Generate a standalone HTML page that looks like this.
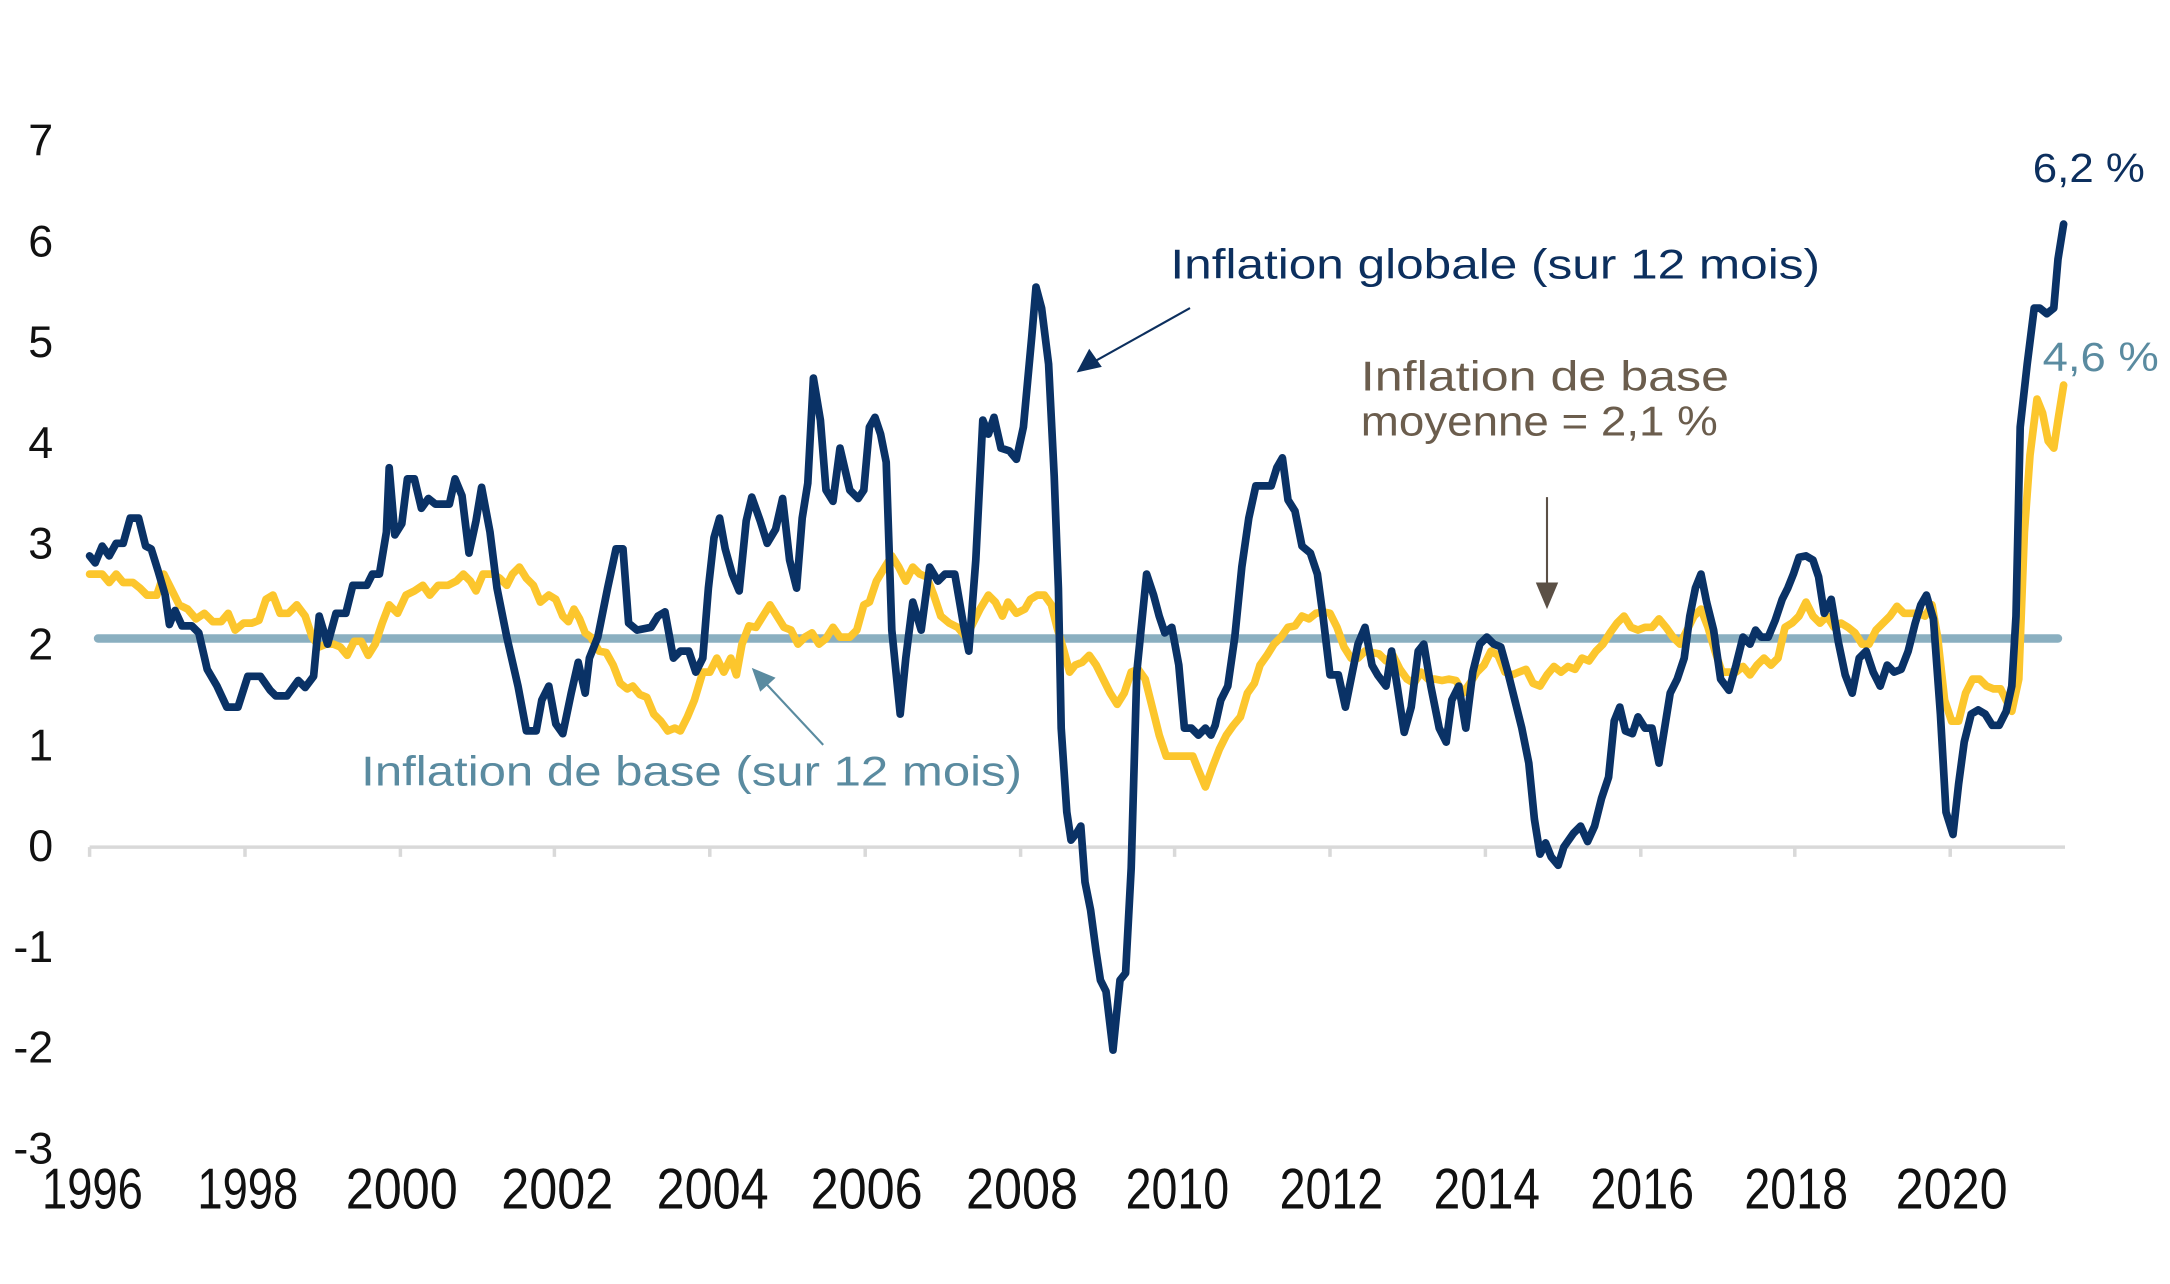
<!DOCTYPE html>
<html><head><meta charset="utf-8"><style>
html,body{margin:0;padding:0;background:#fff;}
svg{display:block;}
text{font-family:"Liberation Sans",sans-serif;}
</style></head><body>
<svg width="2170" height="1284" viewBox="0 0 1550 917" xmlns="http://www.w3.org/2000/svg">
<rect width="1550" height="917" fill="#fff"/>
<g fill="#111" font-size="32" text-anchor="end">
<text x="38" y="111">7</text><text x="38" y="183">6</text><text x="38" y="255">5</text>
<text x="38" y="327">4</text><text x="38" y="399">3</text><text x="38" y="471">2</text>
<text x="38" y="543">1</text><text x="38" y="615">0</text><text x="38" y="687">-1</text>
<text x="38" y="759">-2</text><text x="38" y="831">-3</text>
</g>
<g stroke="#d9d9d9" stroke-width="2.5" fill="none">
<line x1="64" y1="605" x2="1475" y2="605"/>
<path d="M64 605v7M175 605v7M286 605v7M396 605v7M507 605v7M618 605v7M729 605v7M839 605v7M950 605v7M1061 605v7M1172 605v7M1282 605v7M1393 605v7"/>
</g>
<g fill="#111" font-size="41" text-anchor="middle" font-family="Liberation Sans Narrow, Liberation Sans, sans-serif">
<text x="66" y="863" textLength="72" lengthAdjust="spacingAndGlyphs">1996</text>
<text x="177" y="863" textLength="72" lengthAdjust="spacingAndGlyphs">1998</text>
<text x="287" y="863" textLength="80" lengthAdjust="spacingAndGlyphs">2000</text>
<text x="398" y="863" textLength="80" lengthAdjust="spacingAndGlyphs">2002</text>
<text x="509" y="863" textLength="80" lengthAdjust="spacingAndGlyphs">2004</text>
<text x="619" y="863" textLength="80" lengthAdjust="spacingAndGlyphs">2006</text>
<text x="730" y="863" textLength="80" lengthAdjust="spacingAndGlyphs">2008</text>
<text x="841" y="863" textLength="74" lengthAdjust="spacingAndGlyphs">2010</text>
<text x="951" y="863" textLength="74" lengthAdjust="spacingAndGlyphs">2012</text>
<text x="1062" y="863" textLength="76" lengthAdjust="spacingAndGlyphs">2014</text>
<text x="1173" y="863" textLength="74" lengthAdjust="spacingAndGlyphs">2016</text>
<text x="1283" y="863" textLength="74" lengthAdjust="spacingAndGlyphs">2018</text>
<text x="1394" y="863" textLength="80" lengthAdjust="spacingAndGlyphs">2020</text>
</g>
<line x1="70" y1="456" x2="1470" y2="456" stroke="#8aafc0" stroke-width="6" stroke-linecap="round"/>
<polyline fill="none" stroke="#fcc62d" stroke-width="5.5" stroke-linejoin="round" stroke-linecap="round" points="64,410 73,410 78,416 83,410 88,416 95,416 100,420 105,425 112,425 117,410 122,420 128,432 134,435 140,442 146,438 152,444 158,444 163,438 168,450 174,445 180,445 185,443 190,428 195,425 200,438 206,438 212,432 218,440 223,455 228,462 233,460 238,460 243,462 248,468 253,458 258,458 263,468 268,460 273,445 278,432 284,438 290,425 296,422 302,418 307,425 313,418 320,418 326,415 331,410 336,415 340,422 345,410 352,410 357,413 362,418 366,410 371,405 376,413 381,418 386,430 392,425 397,428 402,440 406,444 410,435 414,442 418,452 422,455 428,465 433,466 438,475 443,488 448,492 452,490 457,496 462,498 467,510 472,515 477,522 482,520 486,522 491,512 496,500 502,480 507,480 512,470 517,480 522,470 526,482 530,460 535,447 540,448 545,440 550,432 555,440 560,448 565,450 570,460 575,455 580,452 585,460 590,456 595,448 600,455 607,455 612,450 617,432 621,430 626,415 632,405 637,397 642,405 647,415 652,405 657,410 662,412 667,425 672,440 678,445 684,448 690,455 695,445 700,435 706,425 711,430 716,440 720,430 726,438 732,435 736,428 741,425 746,425 751,432 755,448 760,465 764,480 768,475 773,473 778,468 783,475 788,485 793,495 798,503 803,495 808,480 813,478 818,485 823,505 828,525 833,540 840,540 846,540 852,540 856,550 861,562 866,548 871,535 876,525 881,518 886,512 891,495 896,488 900,475 905,468 910,460 915,455 920,448 925,447 930,440 935,442 940,438 945,437 950,438 955,448 960,462 965,470 970,470 975,465 980,466 985,467 990,472 995,468 1000,478 1005,485 1010,488 1015,480 1020,485 1025,485 1030,486 1035,485 1040,486 1045,495 1050,488 1055,480 1060,475 1065,465 1070,468 1075,480 1080,482 1085,480 1090,478 1095,488 1100,490 1105,482 1110,476 1115,480 1120,476 1125,478 1130,470 1135,472 1140,465 1145,460 1150,452 1155,445 1160,440 1165,448 1170,450 1175,448 1180,448 1185,442 1190,448 1195,455 1200,460 1205,450 1210,440 1215,435 1220,448 1225,465 1230,480 1235,480 1240,480 1245,476 1250,482 1255,475 1260,470 1265,475 1270,470 1275,448 1280,445 1285,440 1290,430 1295,440 1300,445 1305,440 1310,448 1315,445 1320,448 1325,452 1330,460 1335,460 1340,450 1345,445 1350,440 1355,433 1360,438 1365,438 1370,438 1375,440 1380,432 1384,455 1389,500 1394,515 1399,515 1404,495 1409,485 1414,485 1419,490 1424,492 1429,492 1433,500 1437,508 1442,485 1446,380 1450,325 1455,285 1459,295 1463,315 1467,320 1470,300 1474,275"/>
<polyline fill="none" stroke="#0a3266" stroke-width="5.5" stroke-linejoin="round" stroke-linecap="round" points="64,397 68,402 73,390 78,397 83,388 88,388 93,370 99,370 104,390 108,392 113,408 118,425 121,446 125,436 130,447 137,447 142,452 148,478 155,490 162,505 170,505 177,483 186,483 193,493 197,497 205,497 213,486 218,491 224,483 228,440 234,460 240,438 247,438 252,418 262,418 266,410 271,410 276,380 278,334 282,382 287,374 291,342 296,342 301,363 306,356 311,360 321,360 325,342 330,354 335,395 340,372 344,348 350,380 355,420 362,455 370,490 376,522 383,522 387,500 392,490 397,517 402,524 408,495 413,473 418,495 421,470 427,455 434,420 440,392 445,392 449,445 455,450 465,448 470,440 475,437 481,470 486,465 492,465 497,480 502,470 506,420 510,384 514,370 518,392 523,410 528,422 533,372 537,355 543,372 548,388 554,378 559,356 564,400 569,420 573,370 577,345 581,270 586,300 590,350 595,358 600,320 607,350 613,356 617,350 621,305 625,298 629,310 633,330 637,450 643,510 647,470 652,430 658,450 664,405 670,415 675,410 682,410 688,445 692,465 697,400 702,300 706,310 710,298 715,320 721,322 726,328 731,305 737,240 740,205 744,220 749,260 753,340 756,420 758,520 762,580 765,600 769,595 772,590 775,630 779,650 783,680 786,700 790,708 795,750 800,700 804,695 808,620 812,480 815,450 819,410 824,425 828,440 832,452 837,448 842,475 846,520 851,520 856,525 861,520 865,525 868,518 872,500 877,490 882,455 887,405 892,370 897,347 902,347 908,347 912,334 916,327 920,357 925,365 930,390 936,395 941,410 945,440 950,482 956,482 961,505 966,480 970,460 975,448 980,475 984,482 990,490 994,465 998,490 1003,523 1008,505 1013,465 1017,460 1022,490 1028,520 1033,530 1037,500 1042,490 1047,520 1052,480 1057,460 1062,455 1067,460 1072,462 1077,480 1082,500 1087,520 1092,545 1096,585 1100,610 1104,602 1108,612 1113,618 1117,605 1124,595 1129,590 1134,601 1139,590 1144,570 1149,555 1153,515 1157,505 1161,522 1166,524 1170,512 1175,520 1180,520 1185,545 1189,520 1193,495 1198,485 1203,470 1207,440 1211,420 1215,410 1219,430 1224,450 1229,485 1235,493 1240,475 1245,455 1250,460 1254,450 1258,455 1263,455 1268,443 1273,428 1277,420 1281,410 1285,398 1290,397 1295,400 1299,412 1303,438 1308,428 1313,458 1318,482 1323,495 1328,470 1333,465 1338,480 1343,490 1348,475 1353,480 1358,478 1363,465 1368,445 1372,432 1376,425 1381,442 1386,510 1390,580 1395,596 1399,560 1403,530 1408,510 1413,507 1418,510 1423,518 1428,518 1433,508 1437,490 1440,440 1443,305 1448,260 1453,220 1457,220 1462,224 1467,220 1470,185 1474,160"/>
<text x="836" y="199" font-size="30" fill="#0c2f5e" textLength="464" lengthAdjust="spacingAndGlyphs">Inflation globale (sur 12 mois)</text>
<line x1="850" y1="220" x2="782" y2="258" stroke="#0c2f5e" stroke-width="1.5"/>
<polygon points="769,266 778,249 787,262" fill="#0c2f5e"/>
<text x="972" y="279" font-size="30" fill="#6b5d4d" textLength="263" lengthAdjust="spacingAndGlyphs">Inflation de base</text>
<text x="972" y="311" font-size="30" fill="#6b5d4d" textLength="255" lengthAdjust="spacingAndGlyphs">moyenne = 2,1 %</text>
<line x1="1105" y1="355" x2="1105" y2="420" stroke="#5b5046" stroke-width="1.5"/>
<polygon points="1097,416 1113,416 1105,435" fill="#5b5046"/>
<text x="258" y="561" font-size="30" fill="#5a8ba0" textLength="472" lengthAdjust="spacingAndGlyphs">Inflation de base (sur 12 mois)</text>
<line x1="588" y1="532" x2="546" y2="487" stroke="#5a8ba0" stroke-width="1.5"/>
<polygon points="537,477 554,484 543,494" fill="#5a8ba0"/>
<text x="1452" y="130" font-size="29" fill="#0c2f5e" textLength="80" lengthAdjust="spacingAndGlyphs">6,2 %</text>
<text x="1459" y="265" font-size="29" fill="#5a8ba0" textLength="83" lengthAdjust="spacingAndGlyphs">4,6 %</text>
</svg>
</body></html>
